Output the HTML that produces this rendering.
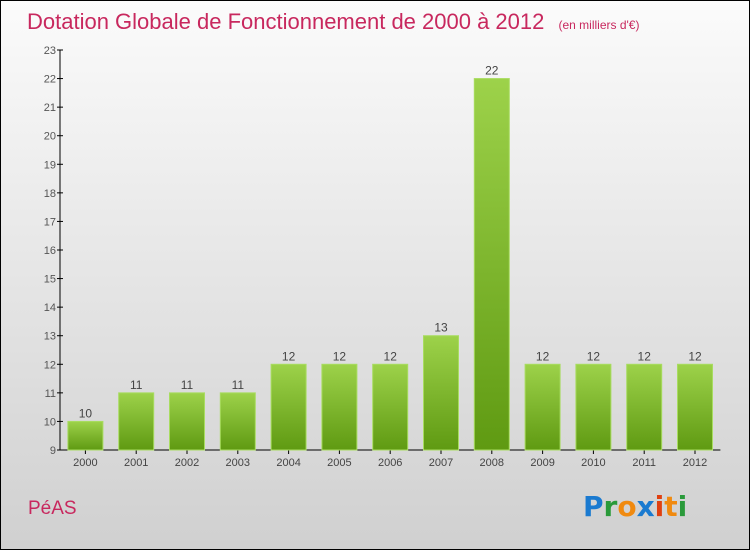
<!DOCTYPE html>
<html><head><meta charset="utf-8"><style>
body{margin:0;width:750px;height:550px;overflow:hidden;font-family:"Liberation Sans",sans-serif}
#wrap{position:absolute;left:0;top:0;width:748px;height:548px;border:1px solid #000;background:linear-gradient(#fbfbfb,#d0d0d0)}
</style></head><body>
<div id="wrap">
<svg width="750" height="550" style="position:absolute;left:-1px;top:-1px" id="svg">
<defs><linearGradient id="g" x1="0" y1="0" x2="0" y2="1"><stop offset="0" stop-color="#9dd24a"/><stop offset="1" stop-color="#5f9a12"/></linearGradient></defs>
<text x="27" y="29" font-size="22" fill="#c8285e">Dotation Globale de Fonctionnement de 2000 à 2012 <tspan font-size="12" dx="8">(en milliers d'€)</tspan></text>
<text x="28" y="514" font-size="19" fill="#c8285e">PéAS</text>
<g font-size="28" font-weight="bold" font-family="'DejaVu Sans',sans-serif">
<text x="583" y="516"><tspan fill="#1a7ad0">P</tspan><tspan fill="#2a9a3a">r</tspan><tspan fill="#f08a10">o</tspan><tspan fill="#1a7ad0">x</tspan><tspan fill="#e04010">i</tspan><tspan fill="#f08a10">t</tspan><tspan fill="#2a9a3a">i</tspan></text></g>
<g id="axes"></g><g id="bars"></g>
</svg></div>
<script>
const categories=["2000","2001","2002","2003","2004","2005","2006","2007","2008","2009","2010","2011","2012"];
const values=[10,11,11,11,12,12,12,13,22,12,12,12,12];
const yTicks=[9,10,11,12,13,14,15,16,17,18,19,20,21,22,23];
const NS="http://www.w3.org/2000/svg";
const x0=60,band=50.8,yMin=9,yMax=23,yBase=450,yTop=50;
const y=v=>yBase-(v-yMin)/(yMax-yMin)*(yBase-yTop);
const xc=i=>x0+band*(i+0.5);
function mk(t,a,p){const e=document.createElementNS(NS,t);for(const k in a)e.setAttribute(k,a[k]);p.appendChild(e);return e;}
const ax=document.getElementById('axes'),bg=document.getElementById('bars');
let l=mk('line',{x1:x0,y1:yTop,x2:x0,y2:yBase,stroke:'#000'},ax);


l=mk('line',{x1:x0,y1:yBase,x2:x0+band*categories.length,y2:yBase,stroke:'#000'},ax);


yTicks.forEach(v=>{
 mk('line',{x1:x0-3,y1:y(v),x2:x0+3,y2:y(v),stroke:'#000'},ax);
 const t=mk('text',{x:x0-4,y:y(v)+4,'text-anchor':'end','font-size':11,fill:'#555'},ax);
 t.textContent=v;
 
 
});
categories.forEach((c,i)=>{
 mk('line',{x1:xc(i),y1:yBase,x2:xc(i),y2:yBase+4,stroke:'#000'},ax);
 const t=mk('text',{x:xc(i),y:yBase+16,'text-anchor':'middle','font-size':11,fill:'#444'},ax);
 t.textContent=c;
 
 
 const r=mk('rect',{x:xc(i)-17.5,y:y(values[i]),width:35,height:yBase-y(values[i]),fill:'url(#g)',stroke:'#a8dc60','stroke-width':1},bg);
 
 
 const vt=mk('text',{x:xc(i),y:y(values[i])-4,'text-anchor':'middle','font-size':12,fill:'#444'},bg);
 vt.textContent=values[i];
 
 
});
</script>
</body></html>
